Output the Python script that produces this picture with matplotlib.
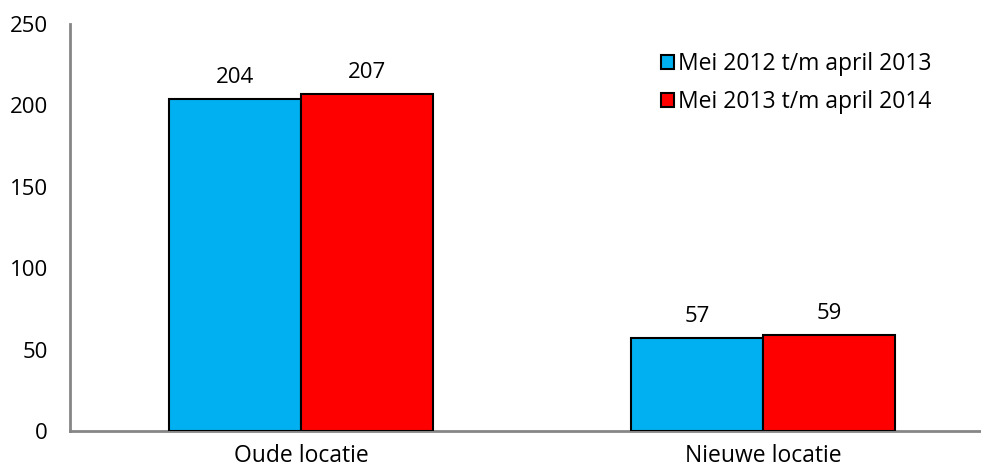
import numpy as np
import matplotlib.pyplot as plt

plt.rcParams['font.family'] = ['Open Sans', 'DejaVu Sans']

categories = ['Oude locatie', 'Nieuwe locatie']
series_names = ['Mei 2012 t/m april 2013', 'Mei 2013 t/m april 2014']
values_2012 = [204, 57]
values_2013 = [207, 59]
colors = ['#00B0F0', '#FF0000']

fig = plt.figure(figsize=(9.81, 4.72), dpi=100)
ax = fig.add_axes([70 / 981, 41 / 472, 924 / 981, 407 / 472])

x = np.arange(len(categories))
w = 1 / 3.5
for i, (vals, name) in enumerate(zip([values_2012, values_2013], series_names)):
    b = ax.bar(x + (i - 0.5) * w, vals, w, color=colors[i], edgecolor='black',
               linewidth=1.5, label=name, zorder=3)
    for rect, v in zip(b, vals):
        ax.annotate(str(v), (rect.get_x() + rect.get_width() / 2, v),
                    xytext=(0, 8), textcoords='offset points',
                    ha='center', va='bottom', fontsize=16)

ax.set_xlim(-0.5, 1.5)
ax.set_ylim(0, 250)
ax.set_yticks(range(0, 251, 50))
ax.set_xticks(x)
ax.set_xticklabels(categories, fontsize=16.5)
ax.tick_params(axis='y', labelsize=16, length=0, pad=16)
ax.tick_params(axis='x', length=0, pad=9)
for s in ['top', 'right']:
    ax.spines[s].set_visible(False)
for s in ['left', 'bottom']:
    ax.spines[s].set_color('#868686')
    ax.spines[s].set_linewidth(2)

ax.legend(loc='upper left', bbox_to_anchor=(650 / 981, 1 - 41 / 472),
          bbox_transform=fig.transFigure, frameon=False, fontsize=16.5,
          handlelength=0.55, handleheight=0.55, handletextpad=0.15,
          labelspacing=0.6, borderpad=0)

fig.savefig('out.png', dpi=100)
